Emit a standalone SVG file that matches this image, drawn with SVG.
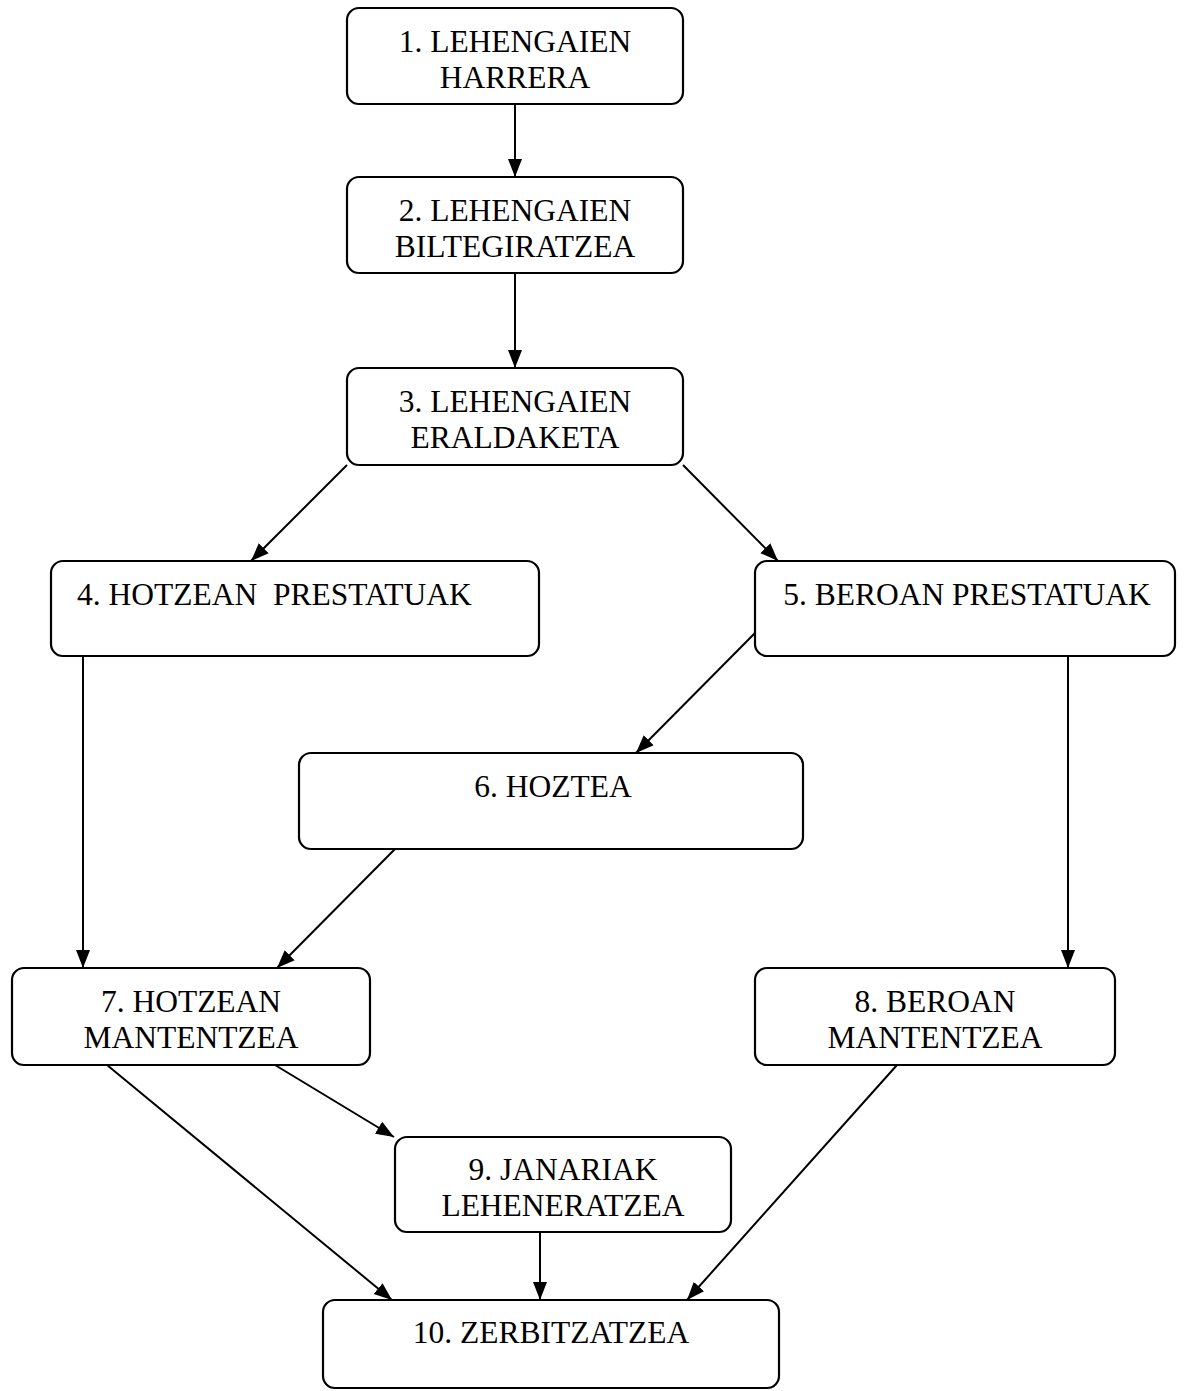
<svg xmlns="http://www.w3.org/2000/svg" width="1189" height="1391" viewBox="0 0 1189 1391">
  <style>
    .box { fill: #ffffff; stroke: #000000; stroke-width: 2.2; }
    .lbl { font-family: "Liberation Serif", "Times New Roman", serif; font-size: 31.5px; fill: #000000; text-anchor: middle; }
    .edge { fill: none; stroke: #000000; stroke-width: 2; marker-end: url(#arrow); }
  </style>
  <defs>
    <marker id="arrow" markerUnits="userSpaceOnUse" markerWidth="19" markerHeight="16" refX="18" refY="8" orient="auto">
      <path d="M0,1 L18,8 L0,15 z" fill="#000000"/>
    </marker>
  </defs>
  <rect width="1189" height="1391" fill="#ffffff"/>

  <g id="connectors">
    <line class="edge" x1="515" y1="104" x2="515" y2="177"/>
    <line class="edge" x1="515" y1="273" x2="515" y2="368"/>
    <line class="edge" x1="347" y1="465" x2="251" y2="561"/>
    <line class="edge" x1="683" y1="465" x2="778" y2="561"/>
    <line class="edge" x1="755" y1="633" x2="636" y2="753"/>
    <line class="edge" x1="83" y1="656" x2="83" y2="968"/>
    <line class="edge" x1="1068" y1="656" x2="1068" y2="968"/>
    <line class="edge" x1="395" y1="849" x2="277" y2="968"/>
    <line class="edge" x1="275" y1="1065" x2="394" y2="1137"/>
    <line class="edge" x1="107" y1="1065" x2="392" y2="1300"/>
    <line class="edge" x1="540" y1="1232" x2="540" y2="1300"/>
    <line class="edge" x1="897" y1="1065" x2="687" y2="1300"/>
  </g>

  <g id="n1">
    <rect class="box" x="347" y="8" width="336" height="96" rx="12"/>
    <text class="lbl" x="515" y="52">1. LEHENGAIEN</text>
    <text class="lbl" x="515" y="88">HARRERA</text>
  </g>
  <g id="n2">
    <rect class="box" x="347" y="177" width="336" height="96" rx="12"/>
    <text class="lbl" x="515" y="221">2. LEHENGAIEN</text>
    <text class="lbl" x="515" y="257">BILTEGIRATZEA</text>
  </g>
  <g id="n3">
    <rect class="box" x="347" y="368" width="336" height="97" rx="12"/>
    <text class="lbl" x="515" y="412">3. LEHENGAIEN</text>
    <text class="lbl" x="515" y="448">ERALDAKETA</text>
  </g>
  <g id="n4">
    <rect class="box" x="51" y="561" width="488" height="95" rx="12"/>
    <text class="lbl" x="77" y="605" style="text-anchor:start" xml:space="preserve">4. HOTZEAN  PRESTATUAK</text>
  </g>
  <g id="n5">
    <rect class="box" x="755" y="561" width="420" height="95" rx="12"/>
    <text class="lbl" x="967" y="605">5. BEROAN PRESTATUAK</text>
  </g>
  <g id="n6">
    <rect class="box" x="299" y="753" width="504" height="96" rx="12"/>
    <text class="lbl" x="553" y="797">6. HOZTEA</text>
  </g>
  <g id="n7">
    <rect class="box" x="12" y="968" width="358" height="97" rx="12"/>
    <text class="lbl" x="191" y="1012">7. HOTZEAN</text>
    <text class="lbl" x="191" y="1048">MANTENTZEA</text>
  </g>
  <g id="n8">
    <rect class="box" x="755" y="968" width="360" height="97" rx="12"/>
    <text class="lbl" x="935" y="1012">8. BEROAN</text>
    <text class="lbl" x="935" y="1048">MANTENTZEA</text>
  </g>
  <g id="n9">
    <rect class="box" x="395" y="1137" width="336" height="95" rx="12"/>
    <text class="lbl" x="563" y="1180">9. JANARIAK</text>
    <text class="lbl" x="563" y="1216">LEHENERATZEA</text>
  </g>
  <g id="n10">
    <rect class="box" x="323" y="1300" width="456" height="88" rx="12"/>
    <text class="lbl" x="551" y="1343">10. ZERBITZATZEA</text>
  </g>
</svg>
